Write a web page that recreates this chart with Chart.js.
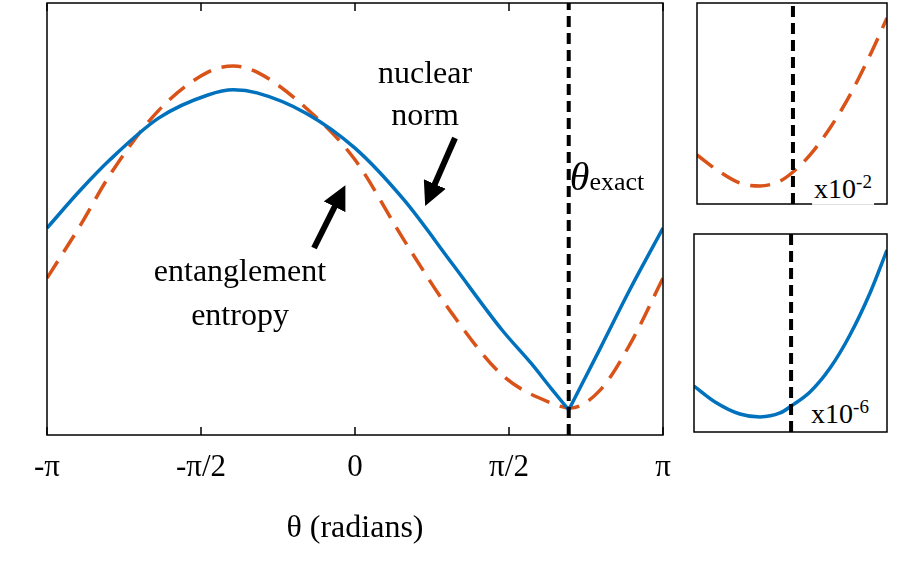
<!DOCTYPE html>
<html><head><meta charset="utf-8">
<script src="https://cdn.jsdelivr.net/npm/chart.js@4/dist/chart.umd.min.js"></script>
<style>
body{margin:0;background:#fff;width:908px;height:578px;position:relative;overflow:hidden;font-family:"Liberation Serif",serif;}
canvas{position:absolute;}
.t{position:absolute;font-size:32px;color:#000;white-space:nowrap;transform:translate(-50%,-50%);}
svg{position:absolute;left:0;top:0;}
</style></head><body>
<canvas id="main" style="left:0;top:0;width:690px;height:578px"></canvas>
<canvas id="ins1" style="left:690px;top:0;width:210px;height:215px"></canvas>
<canvas id="ins2" style="left:690px;top:225px;width:210px;height:215px"></canvas>
<div class="t" style="left:425px;top:72px">nuclear</div>
<div class="t" style="left:425px;top:114px">norm</div>
<div class="t" style="left:240px;top:270px">entanglement</div>
<div class="t" style="left:240px;top:314px">entropy</div>
<div class="t" style="left:607px;top:176px"><i style="font-size:40px">θ</i><span style="font-size:26px">exact</span></div>
<div class="t" style="left:843px;top:188px;font-size:28px;background:#fff;padding:0 2px">x10<sup style="font-size:19px">-2</sup></div>
<div class="t" style="left:840px;top:413px;font-size:28px;background:#fff;padding:0 2px">x10<sup style="font-size:19px">-6</sup></div>
<svg width="908" height="578">
<defs><marker id="ah" markerWidth="4" markerHeight="4" refX="2" refY="2" orient="auto"><path d="M0,0 L4,2 L0,4 z" fill="#000"/></marker></defs>
<line x1="314" y1="248" x2="340" y2="196" stroke="#000" stroke-width="6" marker-end="url(#ah)"/>
<line x1="455" y1="138" x2="430" y2="195" stroke="#000" stroke-width="6" marker-end="url(#ah)"/>
</svg>
<script>
const thetaBlue=[-Math.PI,-2.8,-2.5,-2,-1.5,-1.24,-1,-0.5,0,0.5,1,1.5,1.8,2.0,2.18,2.5,2.8,Math.PI];
const nuclearNorm=[0.479,0.567,0.637,0.734,0.787,0.799,0.792,0.745,0.664,0.544,0.394,0.243,0.165,0.108,0.058,0.200,0.335,0.479];
const thetaOrange=[-Math.PI,-2.8,-2.5,-2,-1.5,-1.24,-1,-0.5,0,0.5,1,1.5,2,2.2,2.5,2.8,Math.PI];
const entEntropy=[0.363,0.486,0.602,0.752,0.840,0.854,0.840,0.757,0.637,0.451,0.278,0.139,0.074,0.0625,0.104,0.208,0.363];
const thetaExact=2.18;
const xTicks=[-Math.PI,-Math.PI/2,0,Math.PI/2,Math.PI];
const xTickLabels=['-π','-π/2','0','π/2','π'];
const ins1X=[0,0.121,0.226,0.332,0.437,0.505,0.595,0.7,0.805,0.911,1];
const ins1Y=[0.244,0.159,0.104,0.090,0.114,0.159,0.244,0.378,0.542,0.741,0.925];
const ins1Exact=0.505;
const ins2X=[0,0.109,0.238,0.342,0.446,0.503,0.601,0.705,0.808,0.912,1];
const ins2Y=[0.232,0.152,0.091,0.076,0.096,0.131,0.202,0.323,0.490,0.702,0.919];
const ins2Exact=0.503;
const BLUE='#0072BD',ORANGE='#D95319';
const pts=(xs,ys)=>xs.map((x,i)=>({x,y:ys[i]}));
const cusp=thetaBlue.indexOf(thetaExact);
const boxPlugin={id:'box',afterDraw(c){const a=c.chartArea,ctx=c.ctx;ctx.save();ctx.strokeStyle='#000';ctx.lineWidth=1.5;ctx.strokeRect(a.left,a.top,a.right-a.left,a.bottom-a.top);
 if(c.canvas.id==='main'){const s=c.scales.x;xTicks.forEach(v=>{const p=s.getPixelForValue(v);ctx.beginPath();ctx.moveTo(p,a.bottom);ctx.lineTo(p,a.bottom-8);ctx.moveTo(p,a.top);ctx.lineTo(p,a.top+8);ctx.stroke();});}
 ctx.restore();}};
const exactDs=(x)=>({data:[{x,y:0},{x,y:1}],borderColor:'#000',borderWidth:4,borderDash:[11,6],pointRadius:0,order:-1});
const common={responsive:false,animation:false,plugins:{legend:{display:false},tooltip:{enabled:false}}};
function mk(id,w,h){const c=document.getElementById(id);c.width=w;c.height=h;return c;}
const bluePts=pts(thetaBlue,nuclearNorm);
new Chart(mk('main',690,578),{type:'line',data:{datasets:[
 exactDs(thetaExact),
 {data:bluePts.slice(0,cusp+1),borderColor:BLUE,borderWidth:3.5,pointRadius:0,cubicInterpolationMode:'monotone'},
 {data:bluePts.slice(cusp),borderColor:BLUE,borderWidth:3.5,pointRadius:0,cubicInterpolationMode:'monotone'},
 {data:pts(thetaOrange,entEntropy),borderColor:ORANGE,borderWidth:3.5,borderDash:[20,11],pointRadius:0,cubicInterpolationMode:'monotone'}
]},options:{...common,layout:{padding:{left:47,right:27,top:3,bottom:0}},
 scales:{x:{type:'linear',min:-Math.PI,max:Math.PI,afterBuildTicks(s){s.ticks=xTicks.map(v=>({value:v}));},
   afterFit(s){s.height=143;},
   ticks:{callback:(v)=>xTickLabels[xTicks.findIndex(t=>Math.abs(t-v)<1e-6)],color:'#000',font:{family:'Liberation Serif',size:31},padding:6,maxRotation:0},
   grid:{display:false},border:{display:false},
   title:{display:true,text:'θ (radians)',color:'#000',font:{family:'Liberation Serif',size:32},padding:{top:20,bottom:30}}},
  y:{display:false,min:0,max:1}}},plugins:[boxPlugin]});
function inset(id,xs,ys,ex,col,dash,pad){
 new Chart(mk(id,210,215),{type:'line',data:{datasets:[exactDs(ex),
  {data:pts(xs,ys),borderColor:col,borderWidth:3.5,borderDash:dash,pointRadius:0,cubicInterpolationMode:'monotone'}]},
  options:{...common,layout:{padding:pad},scales:{x:{type:'linear',display:false,min:0,max:1},y:{display:false,min:0,max:1}}},plugins:[boxPlugin]});
}
inset('ins1',ins1X,ins1Y,ins1Exact,ORANGE,[20,11],{left:7,right:13,top:3,bottom:11});
inset('ins2',ins2X,ins2Y,ins2Exact,BLUE,[],{left:4,right:13,top:9,bottom:8});
</script></body></html>
